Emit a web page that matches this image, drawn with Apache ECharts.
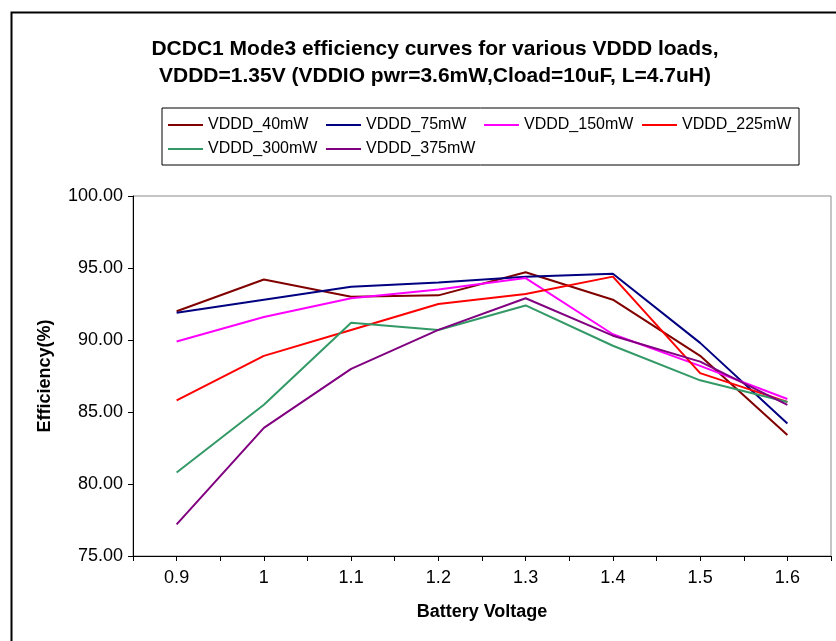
<!DOCTYPE html>
<html>
<head>
<meta charset="utf-8">
<style>
  html, body { margin: 0; padding: 0; background: #fff; }
  #chart { width: 836px; height: 641px; }
</style>
<script src="https://cdn.jsdelivr.net/npm/echarts@6/dist/echarts.min.js"></script>
</head>
<body>
<div id="chart"></div>
<script>
// Battery voltage sweep (V)
const voltages = [0.9, 1.0, 1.1, 1.2, 1.3, 1.4, 1.5, 1.6];

// Efficiency (%) per VDDD load
const seriesNames = ['VDDD_40mW', 'VDDD_75mW', 'VDDD_150mW', 'VDDD_225mW', 'VDDD_300mW', 'VDDD_375mW'];
const eff40  = [92.0, 94.2, 93.0, 93.1, 94.7, 92.8, 88.9, 83.4];
const eff75  = [91.9, 92.8, 93.7, 94.0, 94.4, 94.6, 89.8, 84.2];
const eff150 = [89.9, 91.6, 92.9, 93.5, 94.3, 90.4, 88.2, 85.9];
const eff225 = [85.8, 88.9, 90.7, 92.5, 93.2, 94.4, 87.7, 85.7];
const eff300 = [80.8, 85.5, 91.2, 90.7, 92.4, 89.6, 87.2, 85.7];
const eff375 = [77.2, 83.9, 88.0, 90.7, 92.9, 90.3, 88.5, 85.5];
const seriesValues = [eff40, eff75, eff150, eff225, eff300, eff375];
const seriesColors = ['#800000', '#000080', '#FF00FF', '#FF0000', '#339966', '#800080'];

const titleLines = [
  'DCDC1 Mode3 efficiency curves for various VDDD loads,',
  'VDDD=1.35V (VDDIO pwr=3.6mW,Cload=10uF, L=4.7uH)'
];
const xAxisName = 'Battery Voltage';
const yAxisName = 'Efficiency(%)';

const FONT = '"Liberation Sans", Arial, sans-serif';

const chart = echarts.init(document.getElementById('chart'), null, { renderer: 'canvas' });

const series = seriesNames.map((name, i) => ({
  name: name,
  type: 'line',
  symbol: 'none',
  data: voltages.map((v, j) => [v, seriesValues[i][j]]),
  lineStyle: { width: 2, color: seriesColors[i] },
  itemStyle: { color: seriesColors[i] },
  emphasis: { disabled: true }
}));

chart.setOption({
  backgroundColor: '#ffffff',
  animation: false,
  color: seriesColors,
  title: {
    text: titleLines.join('\n'),
    left: 430,
    textAlign: 'center',
    top: 31,
    textStyle: {
      fontFamily: FONT,
      fontSize: 21,
      fontWeight: 'bold',
      color: '#000',
      lineHeight: 27
    }
  },
  legend: {
    left: 162,
    top: 108,
    width: 640,
    orient: 'horizontal',
    icon: 'rect',
    itemWidth: 35,
    itemHeight: 2,
    itemGap: 8,
    padding: [9, 7, 8, 6],
    borderColor: '#000',
    borderWidth: 1,
    backgroundColor: '#fff',
    textStyle: {
      fontFamily: FONT,
      fontSize: 16,
      color: '#000',
      width: 110,
      lineHeight: 16
    },
    data: seriesNames
  },
  grid: {
    left: 133,
    right: 5,
    top: 196,
    bottom: 85,
    show: true,
    borderColor: '#8c8c8c',
    borderWidth: 1,
    backgroundColor: '#fff'
  },
  xAxis: {
    type: 'value',
    min: 0.85,
    max: 1.65,
    interval: 0.05,
    name: xAxisName,
    nameLocation: 'middle',
    nameGap: 47,
    nameTextStyle: { fontFamily: FONT, fontSize: 18, fontWeight: 'bold', color: '#000' },
    axisLine: { show: true, onZero: false, lineStyle: { color: '#000', width: 1 } },
    axisTick: { show: true, inside: false, length: 5, lineStyle: { color: '#000' } },
    splitLine: { show: false },
    axisLabel: {
      fontFamily: FONT,
      fontSize: 18,
      color: '#000',
      margin: 13,
      showMinLabel: true,
      showMaxLabel: true,
      formatter: function (v) {
        const k = Math.round(v * 100);
        if (k % 10 !== 0) return '';
        return String(k / 100);
      }
    }
  },
  yAxis: {
    type: 'value',
    min: 75,
    max: 100,
    interval: 5,
    name: yAxisName,
    nameLocation: 'middle',
    nameGap: 79,
    nameRotate: 90,
    nameTextStyle: { fontFamily: FONT, fontSize: 18, fontWeight: 'bold', color: '#000' },
    axisLine: { show: true, lineStyle: { color: '#000', width: 1 } },
    axisTick: { show: true, inside: false, length: 5, lineStyle: { color: '#000' } },
    splitLine: { show: false },
    axisLabel: {
      fontFamily: FONT,
      fontSize: 18,
      color: '#000',
      margin: 10,
      formatter: function (v) { return v.toFixed(2); }
    }
  },
  graphic: [
    {
      type: 'rect',
      left: 9,
      top: 10,
      silent: true,
      z: 100,
      shape: { x: 0, y: 0, width: 900, height: 700 },
      style: { fill: 'none', stroke: '#000', lineWidth: 2 }
    }
  ],
  series: series
});
</script>
</body>
</html>
